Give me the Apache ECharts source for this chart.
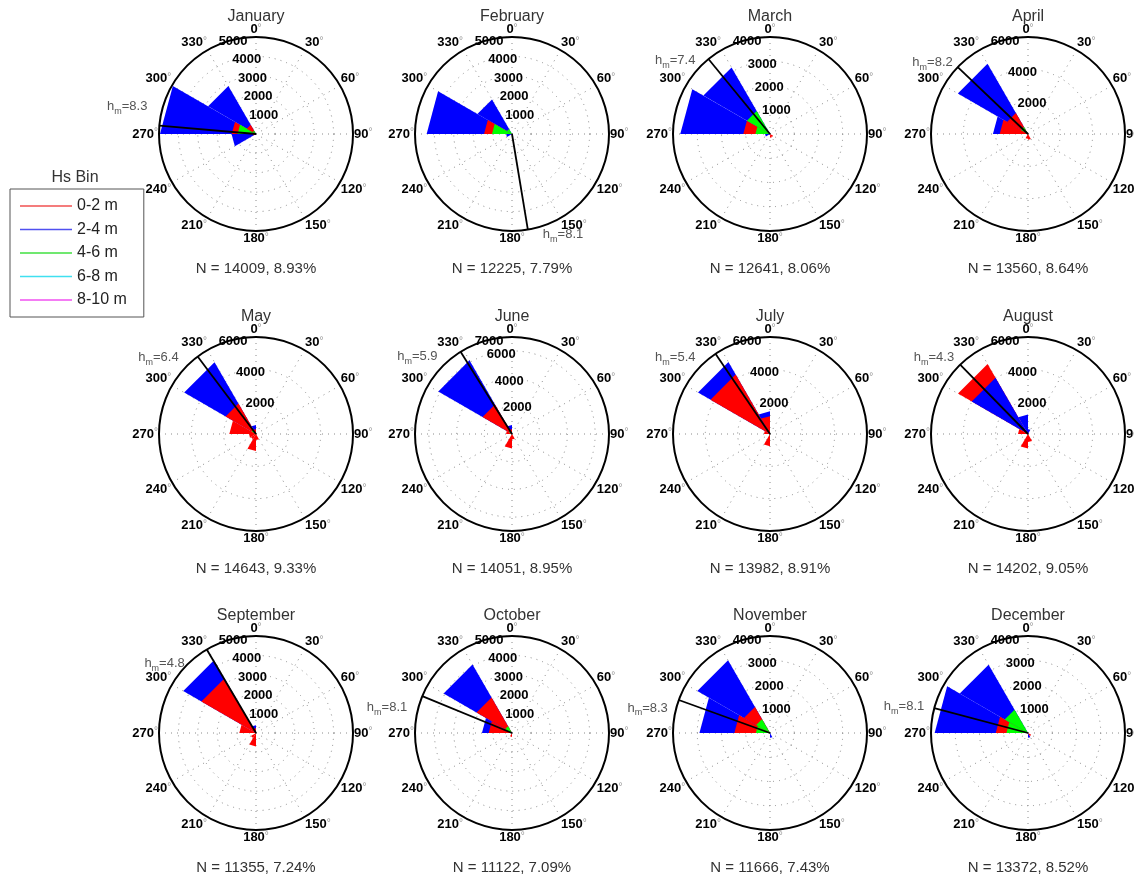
<!DOCTYPE html>
<html><head><meta charset="utf-8">
<script src="https://cdn.jsdelivr.net/npm/echarts@6/dist/echarts.min.js"></script>
<style>html,body{margin:0;padding:0;background:#fff}#c{width:1134px;height:882px}</style>
</head><body><div id="c"></div>
<script>
// ---------- DATA ----------
const months = ['January','February','March','April','May','June','July','August','September','October','November','December'];
const binStarts = [0,30,60,90,120,150,180,210,240,270,300,330];
const binWidth = 30;
const classNames = ['0-2 m','2-4 m','4-6 m','6-8 m','8-10 m'];
// counts per 30-degree direction bin (bins start at 0,30,...,330), one row per month
const hs0_2 = [
  [0,0,0,0,0,0,0,0,150,1250,550,0],
  [0,0,0,0,0,0,0,0,0,1440,0,0],
  [0,0,0,0,150,150,0,0,0,1100,0,0],
  [0,0,0,0,0,350,300,0,0,1750,1500,0],
  [0,0,0,0,0,370,1050,370,430,1650,2170,300],
  [0,0,0,0,0,400,1050,0,0,430,2450,350],
  [0,0,0,0,0,0,750,0,0,370,4250,1100],
  [0,0,0,0,0,500,900,0,0,620,5000,0],
  [0,0,0,0,0,0,690,300,0,860,3250,250],
  [0,0,0,0,0,0,200,0,0,1200,2110,0],
  [0,0,0,0,0,0,0,0,0,1470,1240,0],
  [0,0,0,0,150,0,0,0,0,1330,0,0]
];
const hs2_4 = [
  [0,0,0,0,0,0,0,0,1260,4950,2850,0],
  [0,0,0,0,0,0,0,0,300,4400,2060,0],
  [0,0,0,0,0,0,0,0,200,3700,3170,0],
  [0,0,0,0,0,0,0,0,0,2170,5010,0],
  [0,0,0,0,0,0,0,0,0,0,5130,550],
  [0,0,0,0,0,0,0,0,0,0,6140,650],
  [0,0,0,0,0,0,0,0,0,0,5140,1400],
  [300,0,0,0,0,0,0,0,0,0,4020,1200],
  [0,0,0,0,0,0,0,0,0,0,4330,400],
  [0,0,0,0,0,0,0,0,0,1550,4070,0],
  [0,0,0,0,0,200,0,0,0,2910,3460,0],
  [0,0,0,0,0,200,0,0,0,3850,3250,0]
];
const hs4_6 = [
  [0,0,0,0,0,0,0,0,0,950,200,0],
  [0,0,0,0,0,0,0,0,0,1030,300,0],
  [0,0,0,0,0,0,0,0,0,600,1100,0],
  [0,0,0,0,0,0,0,0,0,0,500,0],
  [0,0,0,0,0,0,0,0,0,0,300,0],
  [0,0,0,0,0,0,0,0,0,0,250,0],
  [0,0,0,0,0,0,0,0,0,0,0,0],
  [0,0,0,0,0,0,0,0,0,0,0,0],
  [0,0,0,0,0,0,0,0,0,0,0,0],
  [0,0,0,0,0,0,0,0,0,0,400,0],
  [0,0,0,0,0,0,0,0,0,580,660,0],
  [0,0,0,0,0,0,0,0,0,890,1110,0]
];
const hs6_8 = [
  [0,0,0,0,0,0,0,0,0,0,0,0],[0,0,0,0,0,0,0,0,0,0,0,0],[0,0,0,0,0,0,0,0,0,0,0,0],
  [0,0,0,0,0,0,0,0,0,0,0,0],[0,0,0,0,0,0,0,0,0,0,0,0],[0,0,0,0,0,0,0,0,0,0,0,0],
  [0,0,0,0,0,0,0,0,0,0,0,0],[0,0,0,0,0,0,0,0,0,0,0,0],[0,0,0,0,0,0,0,0,0,0,0,0],
  [0,0,0,0,0,0,0,0,0,0,0,0],[0,0,0,0,0,0,0,0,0,0,0,0],[0,0,0,0,0,0,0,0,0,0,0,0]
];
const hs8_10 = [
  [0,0,0,0,0,0,0,0,0,0,0,0],[0,0,0,0,0,0,0,0,0,0,0,0],[0,0,0,0,0,0,0,0,0,0,0,0],
  [0,0,0,0,0,0,0,0,0,0,0,0],[0,0,0,0,0,0,0,0,0,0,0,0],[0,0,0,0,0,0,0,0,0,0,0,0],
  [0,0,0,0,0,0,0,0,0,0,0,0],[0,0,0,0,0,0,0,0,0,0,0,0],[0,0,0,0,0,0,0,0,0,0,0,0],
  [0,0,0,0,0,0,0,0,0,0,0,0],[0,0,0,0,0,0,0,0,0,0,0,0],[0,0,0,0,0,0,0,0,0,0,0,0]
];
const rMax = [5000,5000,4000,6000,6000,7000,6000,6000,5000,5000,4000,4000];
const rInterval = [1000,1000,1000,2000,2000,2000,2000,2000,1000,1000,1000,1000];
const rTicks = [
  [1000,2000,3000,4000,5000],[1000,2000,3000,4000,5000],[1000,2000,3000,4000],
  [2000,4000,6000],[2000,4000,6000],[2000,4000,6000,7000],
  [2000,4000,6000],[2000,4000,6000],[1000,2000,3000,4000,5000],
  [1000,2000,3000,4000,5000],[1000,2000,3000,4000],[1000,2000,3000,4000]
];
const angleTicks = [0,30,60,90,120,150,180,210,240,270,300,330];
const hmDir = [275,170.6,320.6,313.6,323,328,325.8,315.6,329.5,292.3,289.9,284.9];
const hmVal = [8.3,8.1,7.4,8.2,6.4,5.9,5.4,4.3,4.8,8.1,8.3,8.1];
const nCount = [14009,12225,12641,13560,14643,14051,13982,14202,11355,11122,11666,13372];
const nPct = ['8.93','7.79','8.06','8.64','9.33','8.95','8.91','9.05','7.24','7.09','7.43','8.52'];

// ---------- LAYOUT / STYLE ----------
const colX = [256, 512, 770, 1028];
const rowY = [134, 434, 733];
const R = 97;
const classColors = ['#ff0000','#0000ff','#00ff00','#00ffff','#ff00ff'];
const legendColors = ['#f05050','#5050f0','#40e040','#40e0f0','#f050f0'];
const hmLabelOff = [[-12,-19,'right'],[15,5,'left'],[-13,1,'right'],[-5,-5,'right'],
  [-19,1,'right'],[-23,5,'right'],[-20,4,'right'],[-6,-7,'right'],
  [-22,14,'right'],[-15,11,'right'],[-11,8,'right'],[-10,-2,'right']];
const FONT = '"Liberation Sans", Arial, Helvetica, sans-serif';
const classData = [hs0_2, hs2_4, hs4_6, hs6_8, hs8_10];

const polar = [], angleAxis = [], radiusAxis = [], series = [], graphic = [];
const dotted = { color: '#8a8a8a', width: 1, type: [1, 5] };

months.forEach((mName, m) => {
  const cx = colX[m % 4], cy = rowY[Math.floor(m / 4)];
  polar.push({ center: [cx, cy], radius: R });
  angleAxis.push({
    polarIndex: m, type: 'value', min: 0, max: 360, interval: 30,
    startAngle: 90, clockwise: true,
    axisLine: { show: true, lineStyle: { color: '#000', width: 2 } },
    axisTick: { show: false },
    splitLine: { show: true, lineStyle: dotted },
    axisLabel: {
      margin: 1,
      formatter: v => (angleTicks.indexOf(v) >= 0 ? '{n|' + v + '}{d|°}' : ''),
      rich: {
        n: { fontFamily: FONT, fontWeight: 'bold', fontSize: 13, color: '#000' },
        d: { fontFamily: FONT, fontSize: 10, color: '#999', verticalAlign: 'top' }
      }
    }
  });
  radiusAxis.push({
    polarIndex: m, type: 'value', min: 0, max: rMax[m], interval: rInterval[m],
    axisLine: { show: false }, axisTick: { show: false }, axisLabel: { show: false },
    splitLine: { show: true, lineStyle: dotted }
  });

  // radial tick labels (under wedges)
  series.push({
    type: 'custom', coordinateSystem: 'polar', polarIndex: m, z: 1, silent: true,
    data: rTicks[m].map(v => [v]),
    dimensions: ['r'], encode: { radius: 0 },
    renderItem: (params, api) => {
      const v = api.value(0);
      const p = api.coord([v, 343]);
      const rim = v === rMax[m] ? -8 : 0;
      return { type: 'text', x: p[0] - 1 + rim, y: p[1],
        style: { text: String(v), font: 'bold 13px ' + FONT, fill: '#000',
          align: 'left', verticalAlign: 'middle', textAlign: 'left', textVerticalAlign: 'middle' } };
    }
  });

  // wedges per Hs class
  classNames.forEach((cn, ci) => {
    const vals = classData[ci][m];
    series.push({
      name: cn, type: 'custom', coordinateSystem: 'polar', polarIndex: m, z: 2,
      itemStyle: { color: classColors[ci] }, silent: true,
      dimensions: ['a0', 'a1', 'v'], encode: { angle: 0, radius: 2 },
      data: binStarts.map((a, k) => [a, a + binWidth, vals[k]]),
      renderItem: (params, api) => {
        const a0 = api.value(0), a1 = api.value(1), v = api.value(2);
        if (!(v > 0)) return null;
        const c = api.coord([0, a0]);
        const p0 = api.coord([v, a0]);
        const p1 = api.coord([v, a1]);
        return { type: 'polygon', z2: -Math.round(v),
          shape: { points: [c, p0, p1] },
          style: { fill: classColors[ci], stroke: null } };
      }
    });
  });

  // mean direction line with h_m label
  series.push({
    type: 'custom', coordinateSystem: 'polar', polarIndex: m, z: 3, silent: true,
    dimensions: ['dir', 'hm'], encode: { angle: 0 },
    data: [[hmDir[m], hmVal[m]]],
    renderItem: (params, api) => {
      const dir = api.value(0), hm = api.value(1);
      const p0 = api.coord([0, dir]);
      const p1 = api.coord([rMax[m], dir]);
      const off = hmLabelOff[m];
      return { type: 'group', children: [
        { type: 'line', shape: { x1: p0[0], y1: p0[1], x2: p1[0], y2: p1[1] },
          style: { stroke: '#000', lineWidth: 1.8 } },
        { type: 'text', x: p1[0] + off[0], y: p1[1] + off[1],
          style: { text: '{a|h}{b|m}{a|=' + hm.toFixed(1) + '}',
            align: off[2], verticalAlign: 'middle', textAlign: off[2], textVerticalAlign: 'middle',
            rich: {
              a: { fontFamily: FONT, fontSize: 13, fill: '#555', color: '#555' },
              b: { fontFamily: FONT, fontSize: 9, fill: '#555', color: '#555', padding: [10, 0, 0, 0] }
            } } }
      ] };
    }
  });

  graphic.push({ type: 'text', x: cx, y: cy - 117, silent: true,
    style: { text: mName, font: '16px ' + FONT, fill: '#333', textAlign: 'center', textVerticalAlign: 'middle', align: 'center', verticalAlign: 'middle' } });
  graphic.push({ type: 'text', x: cx, y: cy + 135, silent: true,
    style: { text: 'N = ' + nCount[m] + ', ' + nPct[m] + '%', font: '15px ' + FONT, fill: '#333', textAlign: 'center', textVerticalAlign: 'middle', align: 'center', verticalAlign: 'middle' } });
});

graphic.push({ type: 'text', x: 75, y: 178, silent: true,
  style: { text: 'Hs Bin', font: '16px ' + FONT, fill: '#333', textAlign: 'center', textVerticalAlign: 'middle', align: 'center', verticalAlign: 'middle' } });

const chart = echarts.init(document.getElementById('c'), null, { renderer: 'canvas' });
chart.setOption({
  animation: false,
  backgroundColor: '#fff',
  polar, angleAxis, radiusAxis, series, graphic,
  legend: {
    orient: 'vertical', left: 10, top: 189, selectedMode: false,
    data: classNames.map((n, i) => ({ name: n, itemStyle: { color: legendColors[i] } })),
    icon: 'rect', itemWidth: 52, itemHeight: 1.5, itemGap: 7.5,
    padding: [9, 17, 9, 10],
    borderColor: '#555', borderWidth: 1, backgroundColor: '#fff',
    textStyle: { fontFamily: FONT, fontSize: 16, color: '#222' }
  }
});
</script>
</body></html>
